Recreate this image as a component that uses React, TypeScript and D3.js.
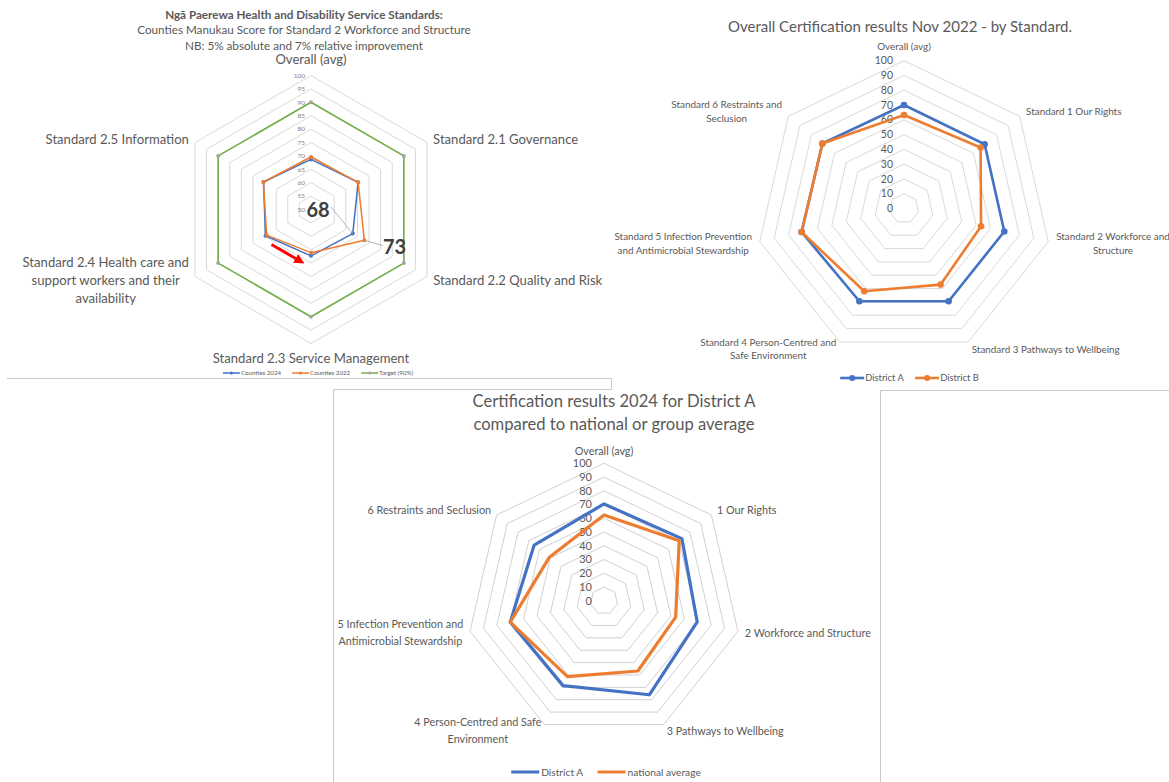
import React from 'react';
import * as d3 from 'd3';

const FONT = 'Lato, "Open Sans", sans-serif';
const TEXT = '#595959';
const BLUE = '#4472C4';
const ORANGE = '#ED7D31';
const GREEN = '#70AD47';
const GREY_MARK = '#A5A5A5';
const GRID = '#D9D9D9';

// ---------- Chart 1 data ----------
const c1Axes: string[][] = [
  ['Overall (avg)'],
  ['Standard 2.1 Governance'],
  ['Standard 2.2 Quality and Risk'],
  ['Standard 2.3 Service Management'],
  ['Standard 2.4 Health care and', 'support workers and their', 'availability'],
  ['Standard 2.5 Information'],
];
const c1Counties2024 = [68.7, 70.3, 68, 67.3, 69.6, 70.5];
const c1Counties2022 = [69.6, 70.3, 73, 66.1, 69.1, 70.5];
const c1Target = [90, 90, 90, 90, 90, 90];
const c1Ticks = [50, 55, 60, 65, 70, 75, 80, 85, 90, 95, 100];
const c1TitleLines = [
  'Ngā Paerewa Health and Disability Service Standards:',
  'Counties Manukau Score for Standard 2 Workforce and Structure',
  'NB: 5% absolute and 7% relative improvement',
];
const c1Legend = ['Counties 2024', 'Counties 2022', 'Target (90%)'];

// ---------- Chart 2 data ----------
const c2Axes: string[][] = [
  ['Overall (avg)'],
  ['Standard 1 Our Rights'],
  ['Standard 2 Workforce and', 'Structure'],
  ['Standard 3 Pathways to Wellbeing'],
  ['Standard 4 Person-Centred and', 'Safe Environment'],
  ['Standard 5 Infection Prevention', 'and Antimicrobial Stewardship'],
  ['Standard 6 Restraints and', 'Seclusion'],
];
const c2DistrictA = [70, 69.7, 69.5, 69.5, 69.5, 71, 70.5];
const c2DistrictB = [63.2, 66.2, 53.4, 57, 62, 71, 70.5];
const c2Ticks = [0, 10, 20, 30, 40, 50, 60, 70, 80, 90, 100];
const c2Title = 'Overall Certification results Nov 2022 - by Standard.';
const c2Legend = ['District A', 'District B'];

// ---------- Chart 3 data ----------
const c3Axes: string[][] = [
  ['Overall (avg)'],
  ['1 Our Rights'],
  ['2 Workforce and Structure'],
  ['3 Pathways to Wellbeing'],
  ['4 Person-Centred and Safe', 'Environment'],
  ['5 Infection Prevention and', 'Antimicrobial Stewardship'],
  ['6 Restraints and Seclusion'],
];
const c3DistrictA = [70.4, 72.5, 69.6, 76, 68.6, 70, 65];
const c3National = [62.4, 70, 53.5, 56.8, 61.3, 70, 50.8];
const c3Ticks = [0, 10, 20, 30, 40, 50, 60, 70, 80, 90, 100];
const c3TitleLines = ['Certification results 2024 for District A', 'compared to national or group average'];
const c3Legend = ['District A', 'national average'];

let _ctx: CanvasRenderingContext2D | null = null;
function textWidth(t: string, size: number, weight = 'normal') {
  if (!_ctx) _ctx = document.createElement('canvas').getContext('2d');
  if (!_ctx) return t.length * size * 0.5;
  _ctx.font = `${weight} ${size}px Lato`;
  return _ctx.measureText(t).width;
}

type Series = { values: number[]; color: string; width: number; marker?: number; markerColor?: string };

type RadarProps = {
  cx: number; cy: number; radius: number; domain: [number, number];
  ticks: number[]; tickSize: number; tickDx: number; tickColor?: string;
  axes: string[][]; labelSize: number; labelOffset: number; lineHeight: number; topDy: number;
  series: Series[]; gridColor?: string;
};

function Radar(p: RadarProps) {
  const r = d3.scaleLinear().domain(p.domain).range([0, p.radius]);
  const n = p.axes.length;
  const ang = d3.scaleLinear().domain([0, n]).range([0, 2 * Math.PI]);
  const pt = (i: number, rad: number): [number, number] => [
    p.cx + rad * Math.sin(ang(i)),
    p.cy - rad * Math.cos(ang(i)),
  ];
  const closed = d3.line().curve(d3.curveLinearClosed);
  const gridVals = p.ticks.filter((t) => t > p.domain[0]);
  return (
    <g>
      {gridVals.map((g) => (
        <path key={'g' + g} d={closed(d3.range(n).map((i) => pt(i, r(g))))!} fill="none" stroke={p.gridColor || GRID} strokeWidth={1} />
      ))}
      {p.ticks.map((t) => (
        <text key={'t' + t} x={p.cx + p.tickDx} y={p.cy - r(t)} dy="0.35em" textAnchor="end" fontSize={p.tickSize} fill={p.tickColor || TEXT}>
          {t}
        </text>
      ))}
      {p.series.map((s, si) => (
        <g key={'s' + si}>
          <path d={closed(s.values.map((v, i) => pt(i, r(v))))!} fill="none" stroke={s.color} strokeWidth={s.width} strokeLinejoin="round" />
          {s.marker
            ? s.values.map((v, i) => {
                const [x, y] = pt(i, r(v));
                return <circle key={i} cx={x} cy={y} r={s.marker} fill={s.markerColor || s.color} />;
              })
            : null}
        </g>
      ))}
      {p.axes.map((lines, i) => {
        const a = ang(i);
        const sn = Math.sin(a), cs = Math.cos(a);
        const [px, py] = pt(i, p.radius + p.labelOffset);
        const m = lines.length;
        const bw = Math.max(...lines.map((l) => textWidth(l, p.labelSize)));
        let x = px, y0 = py;
        if (Math.abs(sn) < 0.01) {
          x = px;
          if (cs > 0) y0 = py - p.topDy - (m - 1) * p.lineHeight;
          else y0 = py + p.labelSize * 0.6;
        } else {
          x = sn > 0 ? px + bw / 2 : px - bw / 2;
          y0 = py - ((m - 1) * p.lineHeight) / 2;
        }
        return (
          <text key={'l' + i} fontSize={p.labelSize} fill={TEXT} textAnchor="middle">
            {lines.map((l, k) => (
              <tspan key={k} x={x} y={y0 + k * p.lineHeight} dy="0.35em">
                {l}
              </tspan>
            ))}
          </text>
        );
      })}
    </g>
  );
}

type LegItem = { name: string; color: string; marker?: number; markerColor?: string };
function Legend({ cx, y, items, size, lineLen, lineW, gap, itemGap }: { cx: number; y: number; items: LegItem[]; size: number; lineLen: number; lineW: number; gap: number; itemGap: number }) {
  const widths = items.map((it) => lineLen + gap + textWidth(it.name, size));
  const total = d3.sum(widths) + itemGap * (items.length - 1);
  let x = cx - total / 2;
  return (
    <g>
      {items.map((it, i) => {
        const x0 = x;
        x += widths[i] + itemGap;
        return (
          <g key={i}>
            <line x1={x0} x2={x0 + lineLen} y1={y} y2={y} stroke={it.color} strokeWidth={lineW} />
            {it.marker ? <circle cx={x0 + lineLen / 2} cy={y} r={it.marker} fill={it.markerColor || it.color} /> : null}
            <text x={x0 + lineLen + gap} y={y} dy="0.35em" fontSize={size} fill={TEXT}>
              {it.name}
            </text>
          </g>
        );
      })}
    </g>
  );
}

export default function App() {
  // chart 1 geometry used for annotations
  const c1 = { cx: 311, cy: 209.5, radius: 134 };
  const r1 = d3.scaleLinear().domain([50, 100]).range([0, c1.radius]);
  const a1 = (i: number) => (i * 2 * Math.PI) / 6;
  const p1 = (i: number, v: number): [number, number] => [c1.cx + r1(v) * Math.sin(a1(i)), c1.cy - r1(v) * Math.cos(a1(i))];
  const blue22 = p1(2, c1Counties2024[2]);
  const orange22 = p1(2, c1Counties2022[2]);

  return (
    <svg width={1169} height={782} style={{ position: 'fixed', left: 0, top: 0, background: '#fff' }} fontFamily={FONT}>
      <defs>
        <marker id="arrowRed" viewBox="0 0 10 10" refX="5" refY="5" markerWidth="3.4" markerHeight="3.4" orient="auto">
          <path d="M0,0 L10,5 L0,10 z" fill="#FF0000" />
        </marker>
      </defs>
      <rect width={1169} height={782} fill="#fff" />

      {/* frame lines */}
      <g stroke="#C8C8C8" strokeWidth={1} fill="none">
        <path d="M7,378.5 H611.5 V389.5 H333.5 V782" />
        <path d="M880.5,782 V390.5 H1169" />
      </g>

      {/* ---------- Chart 1 ---------- */}
      <g>
        {c1TitleLines.map((t, i) => (
          <text key={i} x={304} y={15 + i * 15.3} dy="0.35em" textAnchor="middle" fontSize={11.7} fontWeight={i === 0 ? 'bold' : 'normal'} fill={TEXT}>
            {t}
          </text>
        ))}
        <Radar
          cx={c1.cx} cy={c1.cy} radius={c1.radius} domain={[50, 100]}
          ticks={c1Ticks} tickSize={6.5} tickDx={-6} tickColor="#7F7F7F"
          axes={c1Axes} labelSize={13.1} labelOffset={7} lineHeight={18} topDy={9.5}
          series={[
            { values: c1Counties2024, color: BLUE, width: 1.5, marker: 2 },
            { values: c1Counties2022, color: ORANGE, width: 1.5, marker: 2 },
            { values: c1Target, color: GREEN, width: 1.6, marker: 2, markerColor: GREY_MARK },
          ]}
        />
        {/* callouts */}
        <line x1={331} y1={207} x2={blue22[0]} y2={blue22[1]} stroke="#A6A6A6" strokeWidth={0.8} />
        <line x1={orange22[0]} y1={orange22[1]} x2={383} y2={245.5} stroke="#A6A6A6" strokeWidth={0.8} />
        <text x={318} y={209.5} dy="0.35em" textAnchor="middle" fontSize={20} fontWeight="bold" fill="#404040">68</text>
        <text x={394.5} y={246.5} dy="0.35em" textAnchor="middle" fontSize={20} fontWeight="bold" fill="#404040">73</text>
        <line x1={271.5} y1={244.5} x2={300} y2={261} stroke="#FF0000" strokeWidth={3} markerEnd="url(#arrowRed)" />
        <Legend
          cx={318} y={373} size={6.2} lineLen={17} lineW={1.5} gap={1} itemGap={11}
          items={[
            { name: c1Legend[0], color: BLUE, marker: 1.6 },
            { name: c1Legend[1], color: ORANGE, marker: 1.6 },
            { name: c1Legend[2], color: GREEN, marker: 1.6, markerColor: GREY_MARK },
          ]}
        />
      </g>

      {/* ---------- Chart 2 ---------- */}
      <g>
        <text x={900} y={27} dy="0.35em" textAnchor="middle" fontSize={15} fill={TEXT}>{c2Title}</text>
        <Radar
          cx={904} cy={208.6} radius={148} domain={[0, 100]}
          ticks={c2Ticks} tickSize={10.5} tickDx={-11}
          axes={c2Axes} labelSize={9.9} labelOffset={8} lineHeight={13.5} topDy={6.5}
          series={[
            { values: c2DistrictA, color: BLUE, width: 2.6, marker: 3.3 },
            { values: c2DistrictB, color: ORANGE, width: 2.6, marker: 3.3 },
          ]}
        />
        <Legend
          cx={909.5} y={378} size={9.4} lineLen={24} lineW={2.6} gap={1} itemGap={11}
          items={[
            { name: c2Legend[0], color: BLUE, marker: 3 },
            { name: c2Legend[1], color: ORANGE, marker: 3 },
          ]}
        />
      </g>

      {/* ---------- Chart 3 ---------- */}
      <g>
        {c3TitleLines.map((t, i) => (
          <text key={i} x={614} y={401.5 + i * 22.5} dy="0.35em" textAnchor="middle" fontSize={16.6} fill={TEXT}>
            {t}
          </text>
        ))}
        <Radar
          cx={604} cy={600.7} radius={137.4} domain={[0, 100]}
          ticks={c3Ticks} tickSize={11} tickDx={-12}
          axes={c3Axes} labelSize={10.8} labelOffset={7} lineHeight={17} topDy={5.5}
          series={[
            { values: c3DistrictA, color: BLUE, width: 3.2 },
            { values: c3National, color: ORANGE, width: 3.2 },
          ]}
          gridColor="#D0D0D0"
        />
        <Legend
          cx={606} y={772} size={10.2} lineLen={28} lineW={3} gap={2} itemGap={14}
          items={[
            { name: c3Legend[0], color: BLUE },
            { name: c3Legend[1], color: ORANGE },
          ]}
        />
      </g>
    </svg>
  );
}
